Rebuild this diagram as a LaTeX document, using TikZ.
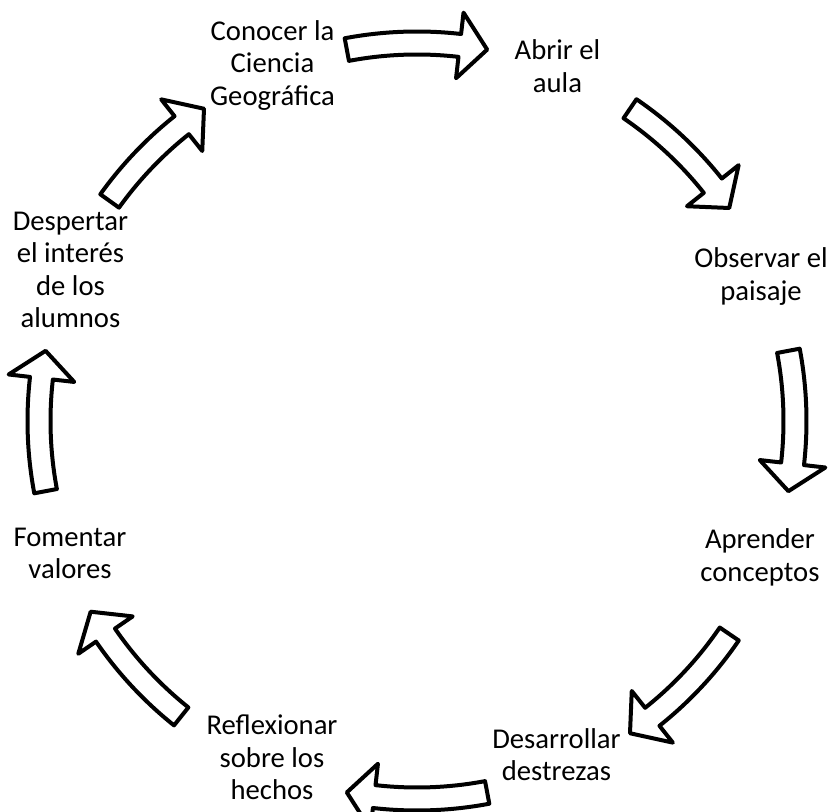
\documentclass[tikz,border=0pt]{standalone}
\usepackage{fontspec}
\setmainfont{Carlito}
\usepackage{tikz}

\tikzset{
  etapa/.style={align=center, inner sep=0pt, font=\fontsize{21.5}{24.4}\selectfont},
  flecha/.style={draw=black, line width=3pt, fill=white, line join=round}
}

\begin{document}
\begin{tikzpicture}[x=0.75pt,y=0.75pt]
\useasboundingbox (-417,-391) rectangle (413,421);
% curved block arrows, clockwise (centre angle / tail half span)
\foreach \c/\s in {90/10.7,45/10.7,0/10.7,-45/10.7,-90/10.7,-139/10.4,180/10.7,135/9.4} {
  \pgfmathsetmacro\a{\c+\s}
  \pgfmathsetmacro\b{\c-10.7}
  \pgfmathsetmacro\h{\c-10.7+4.2}
  \draw[flecha] (\a:389.5) arc[start angle=\a, end angle=\h, radius=389.5]
    -- (\h:411) -- (\b:378) -- (\h:345) -- (\h:366.5)
    arc[start angle=\h, end angle=\a, radius=366.5] -- cycle;
}
\node[etapa] (conocer) at (-144.5,355.5) {Conocer la\\Ciencia\\Geográfica};
\node[etapa] (abrir) at (140.5,355) {Abrir el\\aula};
\node[etapa] (observar) at (344,144.5) {Observar el\\paisaje};
\node[etapa] (aprender) at (343,-136.5) {Aprender\\conceptos};
\node[etapa] (desarrollar) at (139.5,-333.5) {Desarrollar\\destrezas};
\node[etapa] (reflexionar) at (-145,-336.5) {Reflexionar\\sobre los\\hechos};
\node[etapa] (fomentar) at (-347,-132.5) {Fomentar\\valores};
\node[etapa] (despertar) at (-346.5,151) {Despertar\\el interés\\de los\\alumnos};
\end{tikzpicture}
\end{document}
